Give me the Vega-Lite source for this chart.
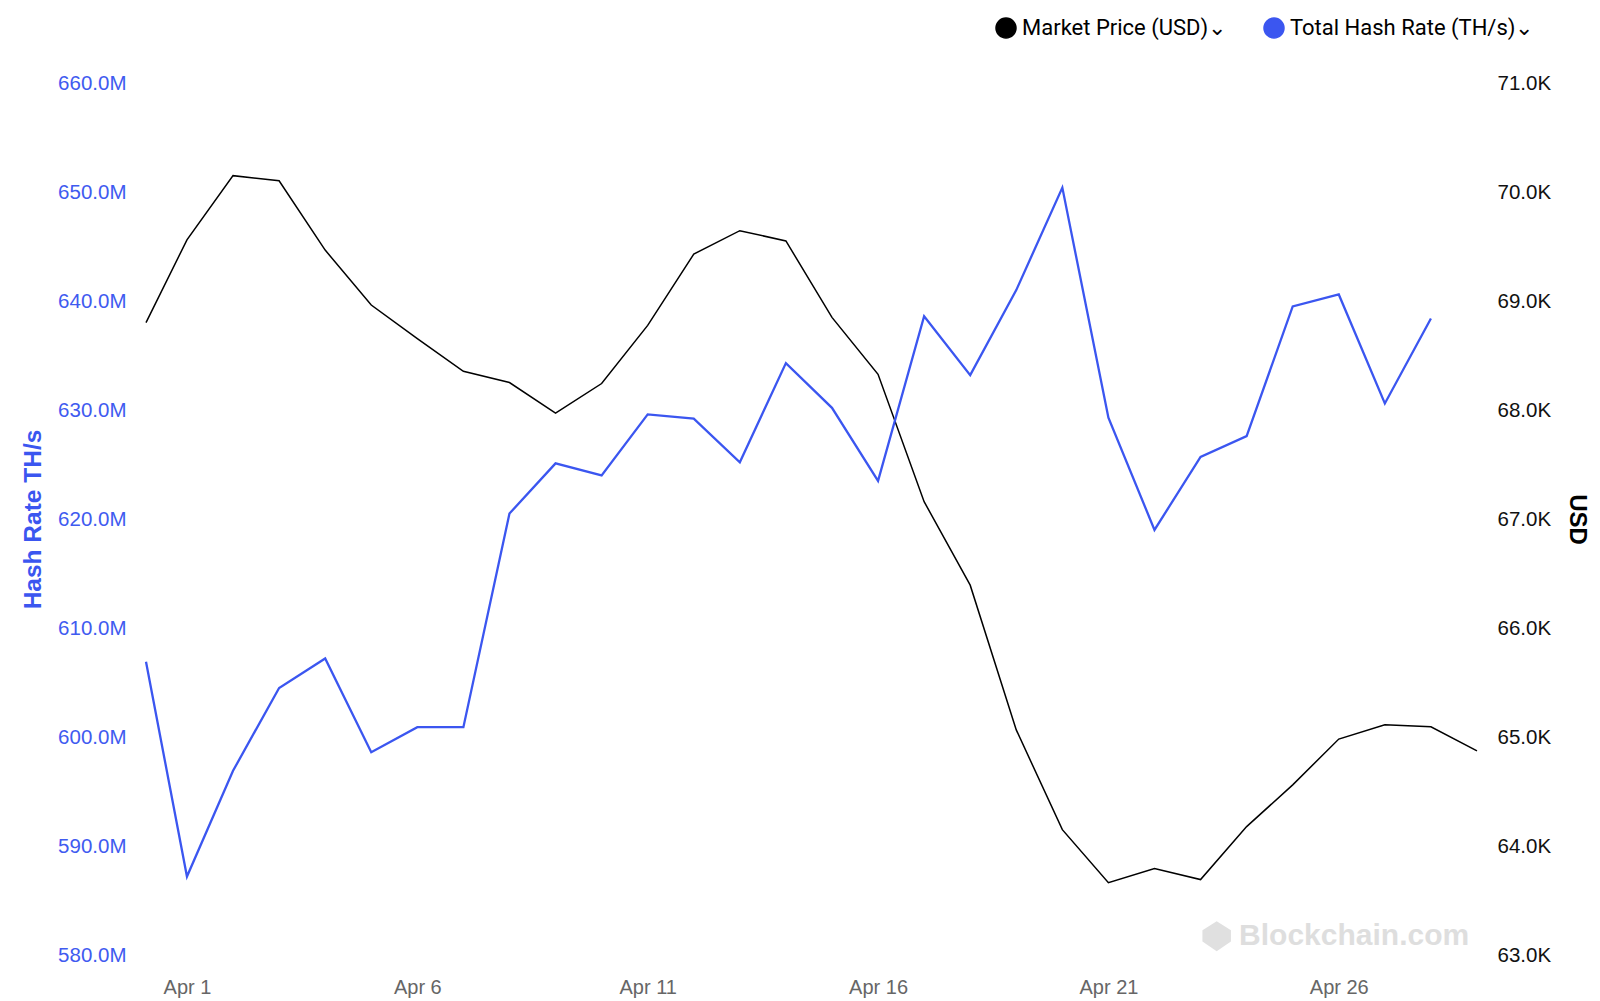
{
  "$schema": "https://vega.github.io/schema/vega-lite/v6.json",
  "width": 1331,
  "height": 872,
  "autosize": {"type": "none"},
  "padding": {"left": 146, "top": 83, "right": 123, "bottom": 46},
  "background": "white",
  "config": {
    "view": {"stroke": null},
    "font": "Liberation Sans",
    "axis": {"grid": false, "ticks": false, "domain": false, "tickSize": 0}
  },
  "datasets": {
    "price": [
      {"date": "2024-03-31T02:40:00Z", "usd": 68801},
      {"date": "2024-04-01T00:00:00Z", "usd": 69561},
      {"date": "2024-04-02T00:00:00Z", "usd": 70150},
      {"date": "2024-04-03T00:00:00Z", "usd": 70103},
      {"date": "2024-04-04T00:00:00Z", "usd": 69467},
      {"date": "2024-04-05T00:00:00Z", "usd": 68963},
      {"date": "2024-04-06T00:00:00Z", "usd": 68654},
      {"date": "2024-04-07T00:00:00Z", "usd": 68355},
      {"date": "2024-04-08T00:00:00Z", "usd": 68252},
      {"date": "2024-04-09T00:00:00Z", "usd": 67972},
      {"date": "2024-04-10T00:00:00Z", "usd": 68243},
      {"date": "2024-04-11T00:00:00Z", "usd": 68776},
      {"date": "2024-04-12T00:00:00Z", "usd": 69430},
      {"date": "2024-04-13T00:00:00Z", "usd": 69645},
      {"date": "2024-04-14T00:00:00Z", "usd": 69551},
      {"date": "2024-04-15T00:00:00Z", "usd": 68850},
      {"date": "2024-04-16T00:00:00Z", "usd": 68327},
      {"date": "2024-04-17T00:00:00Z", "usd": 67159},
      {"date": "2024-04-18T00:00:00Z", "usd": 66393},
      {"date": "2024-04-19T00:00:00Z", "usd": 65065},
      {"date": "2024-04-20T00:00:00Z", "usd": 64150},
      {"date": "2024-04-21T00:00:00Z", "usd": 63664},
      {"date": "2024-04-22T00:00:00Z", "usd": 63794},
      {"date": "2024-04-23T00:00:00Z", "usd": 63692},
      {"date": "2024-04-24T00:00:00Z", "usd": 64178},
      {"date": "2024-04-25T00:00:00Z", "usd": 64561},
      {"date": "2024-04-26T00:00:00Z", "usd": 64981},
      {"date": "2024-04-27T00:00:00Z", "usd": 65112},
      {"date": "2024-04-28T00:00:00Z", "usd": 65093},
      {"date": "2024-04-29T00:00:00Z", "usd": 64872}
    ],
    "hash": [
      {"date": "2024-03-31T02:40:00Z", "ths": 606900000},
      {"date": "2024-04-01T00:00:00Z", "ths": 587200000},
      {"date": "2024-04-02T00:00:00Z", "ths": 596900000},
      {"date": "2024-04-03T00:00:00Z", "ths": 604500000},
      {"date": "2024-04-04T00:00:00Z", "ths": 607200000},
      {"date": "2024-04-05T00:00:00Z", "ths": 598600000},
      {"date": "2024-04-06T00:00:00Z", "ths": 600900000},
      {"date": "2024-04-07T00:00:00Z", "ths": 600900000},
      {"date": "2024-04-08T00:00:00Z", "ths": 620500000},
      {"date": "2024-04-09T00:00:00Z", "ths": 625100000},
      {"date": "2024-04-10T00:00:00Z", "ths": 624000000},
      {"date": "2024-04-11T00:00:00Z", "ths": 629600000},
      {"date": "2024-04-12T00:00:00Z", "ths": 629200000},
      {"date": "2024-04-13T00:00:00Z", "ths": 625200000},
      {"date": "2024-04-14T00:00:00Z", "ths": 634300000},
      {"date": "2024-04-15T00:00:00Z", "ths": 630200000},
      {"date": "2024-04-16T00:00:00Z", "ths": 623500000},
      {"date": "2024-04-17T00:00:00Z", "ths": 638600000},
      {"date": "2024-04-18T00:00:00Z", "ths": 633200000},
      {"date": "2024-04-19T00:00:00Z", "ths": 641000000},
      {"date": "2024-04-20T00:00:00Z", "ths": 650400000},
      {"date": "2024-04-21T00:00:00Z", "ths": 629300000},
      {"date": "2024-04-22T00:00:00Z", "ths": 619000000},
      {"date": "2024-04-23T00:00:00Z", "ths": 625700000},
      {"date": "2024-04-24T00:00:00Z", "ths": 627600000},
      {"date": "2024-04-25T00:00:00Z", "ths": 639500000},
      {"date": "2024-04-26T00:00:00Z", "ths": 640600000},
      {"date": "2024-04-27T00:00:00Z", "ths": 630600000},
      {"date": "2024-04-28T00:00:00Z", "ths": 638400000}
    ],
    "watermark": [
      {"date": "2024-04-26T08:00:00Z", "ths": 581750000, "label": "Blockchain.com"}
    ],
    "logo": [
      {"date": "2024-04-23T08:24:00Z", "ths": 581720000}
    ]
  },
  "encoding": {
    "x": {
      "field": "date",
      "type": "temporal",
      "scale": {
        "type": "utc",
        "domain": [
          {"year": 2024, "month": 3, "date": 31, "hours": 2, "minutes": 40, "utc": true},
          {"year": 2024, "month": 4, "date": 29, "utc": true}
        ]
      },
      "axis": {
        "title": null,
        "format": "%b %-d",
        "values": [
          {"year": 2024, "month": 4, "date": 1, "utc": true},
          {"year": 2024, "month": 4, "date": 6, "utc": true},
          {"year": 2024, "month": 4, "date": 11, "utc": true},
          {"year": 2024, "month": 4, "date": 16, "utc": true},
          {"year": 2024, "month": 4, "date": 21, "utc": true},
          {"year": 2024, "month": 4, "date": 26, "utc": true}
        ],
        "labelFontSize": 20,
        "labelColor": "#666666",
        "labelPadding": 22,
        "labelFont": "Liberation Sans"
      }
    }
  },
  "layer": [
    {
      "data": {"name": "price"},
      "mark": {"type": "line", "strokeWidth": 1.5, "strokeJoin": "miter"},
      "encoding": {
        "y": {
          "field": "usd",
          "type": "quantitative",
          "scale": {"domain": [63000, 71000], "zero": false, "nice": false},
          "axis": {
            "orient": "right",
            "title": "USD",
            "titleFontSize": 24,
            "titleFontWeight": "bold",
            "titleColor": "#000000",
            "titlePadding": 14,
            "labelFontSize": 20.5,
            "labelColor": "#111111",
            "labelPadding": 20,
            "values": [63000, 64000, 65000, 66000, 67000, 68000, 69000, 70000, 71000],
            "labelExpr": "format(datum.value / 1000, '.1f') + 'K'"
          }
        },
        "color": {
          "datum": "Market Price (USD)",
          "type": "nominal",
          "scale": {
            "domain": ["Market Price (USD)", "Total Hash Rate (TH/s)"],
            "range": ["#000000", "#3b56f0"]
          },
          "legend": {
            "title": null,
            "orient": "none",
            "direction": "horizontal",
            "legendX": 849,
            "legendY": -66,
            "padding": 0,
            "symbolType": "circle",
            "symbolSize": 400,
            "symbolStrokeWidth": 1.5,
            "labelFont": "Roboto",
            "labelFontSize": 22,
            "labelColor": "#000000",
            "labelOffset": 5,
            "columnPadding": 34,
            "labelLimit": 400,
            "labelExpr": "datum.label + '⌄'",
            "encode": {
              "symbols": {
                "update": {
                  "fill": {"scale": "color", "field": "value"},
                  "stroke": {"value": "#8a8a8a"},
                  "fillOpacity": {"value": 1}
                }
              }
            }
          }
        }
      }
    },
    {
      "layer": [
        {
          "data": {"name": "hash"},
          "mark": {"type": "line", "strokeWidth": 2.3, "strokeJoin": "miter"},
          "encoding": {
            "y": {
              "field": "ths",
              "type": "quantitative",
              "scale": {"domain": [580000000, 660000000], "zero": false, "nice": false},
              "axis": {
                "orient": "left",
                "title": "Hash Rate TH/s",
                "titleFontSize": 24.5,
                "titleFontWeight": "bold",
                "titleColor": "#3b56f0",
                "titlePadding": 12,
                "labelFontSize": 20.5,
                "labelColor": "#3f5bf0",
                "labelPadding": 20,
                "values": [580000000, 590000000, 600000000, 610000000, 620000000, 630000000, 640000000, 650000000, 660000000],
                "labelExpr": "format(datum.value / 1000000, '.1f') + 'M'"
              }
            },
            "color": {"datum": "Total Hash Rate (TH/s)", "type": "nominal"}
          }
        },
        {
          "data": {"name": "watermark"},
          "mark": {"type": "text", "font": "Liberation Sans", "fontWeight": "bold", "fontSize": 30, "fill": "#dedede", "align": "center", "baseline": "middle"},
          "encoding": {
            "y": {"field": "ths", "type": "quantitative"},
            "text": {"field": "label", "type": "nominal"}
          }
        },
        {
          "data": {"name": "logo"},
          "mark": {"type": "point", "filled": true, "fill": "#e0e0e0", "opacity": 1, "size": 900, "shape": "M0,-1L0.95,-0.4L0.95,0.35L0,1L-0.95,0.35L-0.95,-0.4Z"},
          "encoding": {
            "y": {"field": "ths", "type": "quantitative"}
          }
        }
      ]
    }
  ],
  "resolve": {"scale": {"y": "independent"}}
}
